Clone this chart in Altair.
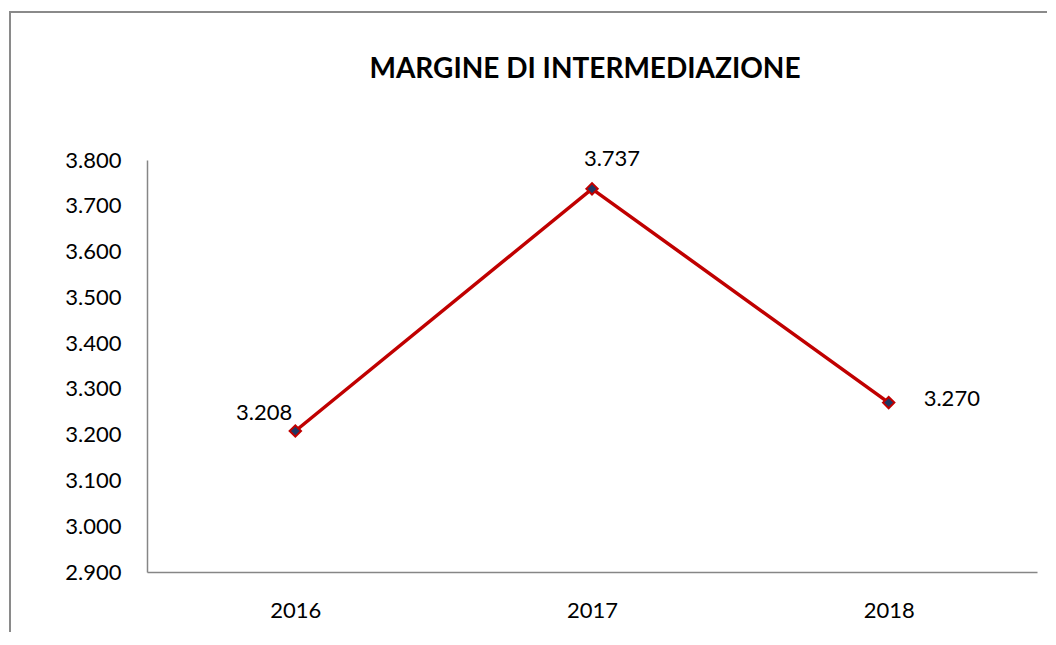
import altair as alt
import pandas as pd

years = ["2016", "2017", "2018"]
values = [3208, 3737, 3270]
labels = ["3.208", "3.737", "3.270"]
y_ticks = [2900, 3000, 3100, 3200, 3300, 3400, 3500, 3600, 3700, 3800]
title_text = "MARGINE DI INTERMEDIAZIONE"

df = pd.DataFrame({"year": years, "value": values, "label": labels})

FONT = "Lato"
FS = 22
W, H = 890, 412

x_enc = alt.X("year:O", scale=alt.Scale(type="point", padding=0.5),
              axis=alt.Axis(title=None, labelAngle=0, ticks=False, domainColor="#868686",
                            domainWidth=1.5, labelPadding=28, labelFontSize=FS,
                            labelFont=FONT, labelColor="#000000", grid=False))
y_enc = alt.Y("value:Q", scale=alt.Scale(domain=[2900, 3800], nice=False, zero=False),
              axis=alt.Axis(title=None, values=y_ticks, ticks=False, domainColor="#868686",
                            domainWidth=1.5, labelPadding=26, labelFontSize=FS,
                            labelFont=FONT, labelColor="#000000", grid=False,
                            labelExpr="replace(format(datum.value, ',.0f'), ',', '.')"))

base = alt.Chart(df)

border = alt.Chart(pd.DataFrame({"a": [0]})).mark_rect(
    fill=None, stroke="#8a8a8a", strokeWidth=2, clip=False
).encode(x=alt.value(-137), x2=alt.value(W + 200), y=alt.value(-148), y2=alt.value(H + 200))

title = alt.Chart(pd.DataFrame({"t": [title_text]})).mark_text(
    font=FONT, fontSize=28, fontWeight="bold", color="#000000",
    align="center", baseline="alphabetic"
).encode(x=alt.value(438), y=alt.value(-82), text="t:N")

line = base.mark_line(color="#C00000", strokeWidth=3.5).encode(x=x_enc, y=y_enc)
pts = base.mark_point(shape="diamond", size=130, filled=True, fill="#1F3864",
                      stroke="#C00000", strokeWidth=2, opacity=1).encode(x=x_enc, y=y_enc)

def lab(year, align, dx, dy):
    return base.transform_filter(alt.datum.year == year).mark_text(
        align=align, baseline="middle", dx=dx, dy=dy, fontSize=FS, font=FONT, color="#000000"
    ).encode(x=x_enc, y=y_enc, text="label:N")

chart = alt.layer(
    border, title, line, pts,
    lab("2016", "right", -3, -18),
    lab("2017", "center", 20, -30),
    lab("2018", "left", 35, -4),
).properties(
    width=W, height=H,
    autosize=alt.AutoSizeParams(type="none"),
    padding={"left": 139, "top": 152, "right": 10, "bottom": 60},
).configure_view(stroke=None)

chart.save("out.html", embed_options={"renderer": "svg", "actions": False})
